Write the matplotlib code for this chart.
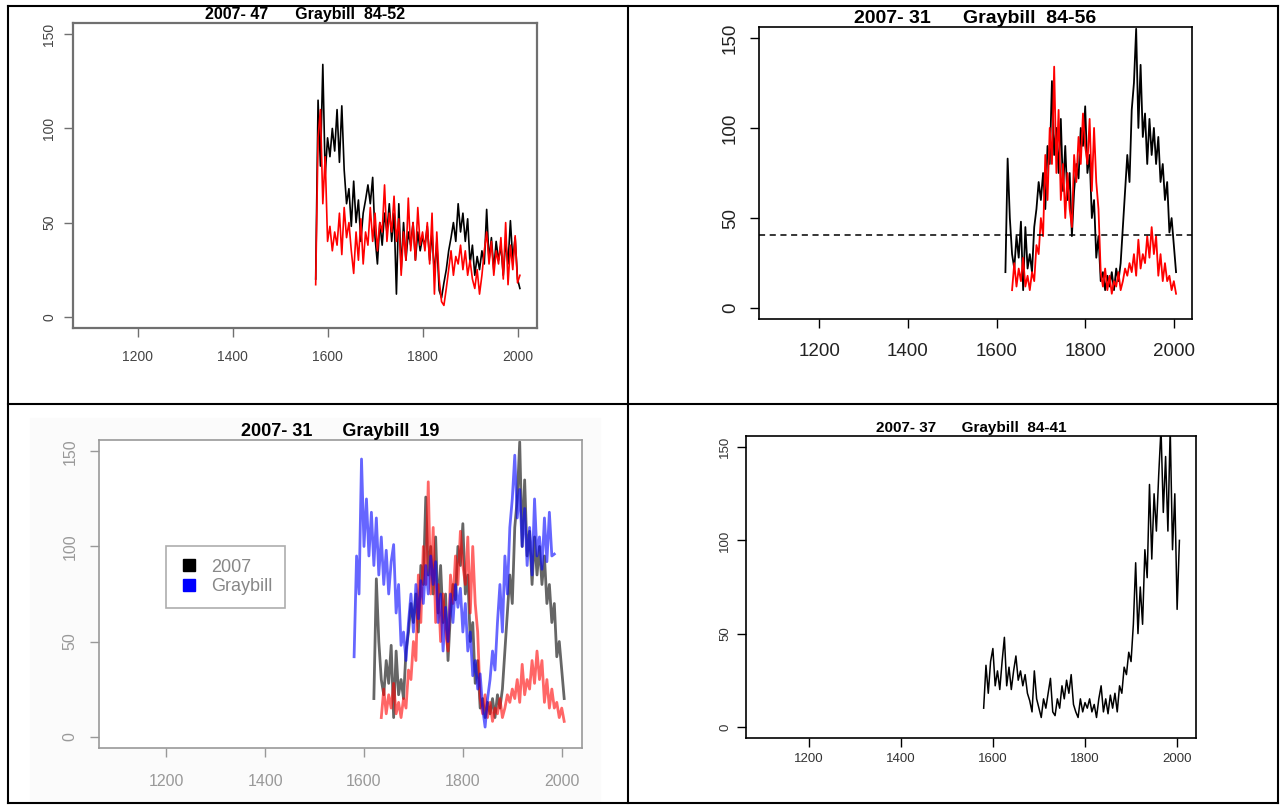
import numpy as np
import matplotlib
matplotlib.use("Agg")
import matplotlib.pyplot as plt
from matplotlib.lines import Line2D

plt.rcParams['font.family'] = ['Liberation Sans', 'DejaVu Sans']

# ---- data (5-year steps) ----
yr_a = np.arange(1575, 2006, 5)
black_a = [20, 115, 80, 134, 75, 95, 85, 100, 88, 110, 82, 112, 78, 60, 68, 48, 72, 50, 62, 40,
           55, 62, 70, 60, 74, 42, 28, 50, 38, 55, 45, 60, 40, 55, 12, 60, 25, 50, 30, 45,
           38, 50, 30, 45, 35, 42, 38, 48, 30, 45, 22, 40, 14, 10, 18, 25, 35, 42, 50, 40,
           60, 45, 55, 40, 52, 28, 38, 22, 32, 25, 35, 28, 57, 30, 42, 25, 40, 30, 38, 22,
           40, 28, 51, 30, 42, 20, 15]
red_a = [17, 95, 110, 60, 85, 40, 48, 35, 45, 38, 55, 33, 58, 42, 50, 35, 23, 45, 30, 52,
         28, 45, 38, 58, 40, 55, 35, 50, 45, 70, 40, 55, 45, 64, 40, 52, 22, 45, 30, 63,
         35, 50, 30, 58, 38, 45, 35, 50, 28, 55, 12, 45, 20, 8, 6, 15, 25, 35, 22, 32,
         28, 38, 25, 35, 22, 30, 20, 15, 25, 12, 22, 35, 45, 28, 40, 22, 35, 28, 42, 20,
         50, 17, 38, 25, 43, 18, 22]

# 2007-31 series (shared by the two "2007-31" panels)
yr_b = np.arange(1620, 2006, 5)
black_b = [20, 83, 50, 30, 22, 40, 28, 48, 10, 45, 22, 30, 20, 45, 55, 70, 60, 75, 55, 90,
           80, 126, 85, 100, 75, 105, 65, 90, 60, 75, 40, 65, 80, 72, 100, 90, 112, 75, 85, 50,
           60, 28, 40, 15, 20, 10, 18, 12, 20, 10, 22, 15, 25, 45, 65, 85, 70, 110, 125, 155,
           100, 135, 95, 108, 80, 105, 85, 100, 80, 95, 70, 80, 60, 70, 42, 50, 35, 20]
yr_r = np.arange(1635, 2006, 5)
red_b = [10, 25, 12, 22, 15, 28, 12, 18, 10, 20, 15, 35, 30, 50, 40, 85, 60, 100, 80, 134,
         75, 110, 60, 80, 50, 75, 55, 45, 85, 70, 95, 80, 108, 90, 80, 105, 65, 100, 70, 55,
         20, 12, 22, 10, 18, 8, 15, 12, 20, 10, 15, 22, 18, 25, 20, 30, 18, 38, 22, 30,
         25, 40, 28, 45, 30, 40, 18, 30, 15, 25, 15, 18, 10, 15, 8]

yr_g19 = np.arange(1580, 1986, 5)
graybill_19 = [42, 95, 75, 146, 100, 125, 95, 118, 90, 115, 85, 105, 80, 98, 75, 92, 101, 65, 80, 48,
               55, 40, 60, 75, 55, 80, 62, 82, 70, 90, 75, 95, 80, 92, 60, 75, 45, 68, 50, 75,
               60, 80, 68, 78, 55, 70, 45, 55, 32, 40, 25, 33, 15, 5, 20, 30, 45, 35, 60, 80,
               55, 95, 75, 110, 125, 148, 115, 130, 100, 120, 90, 110, 85, 125, 95, 105, 88, 115, 92, 118,
               95, 96]

yr_d = np.arange(1580, 2006, 5)
black_d = [10, 33, 18, 35, 42, 22, 30, 20, 35, 48, 22, 32, 20, 30, 38, 25, 30, 22, 28, 18,
           14, 8, 30, 15, 10, 5, 15, 10, 18, 26, 8, 6, 15, 10, 22, 15, 25, 18, 28, 12,
           8, 5, 15, 8, 13, 10, 15, 8, 12, 5, 15, 22, 8, 15, 7, 17, 10, 18, 8, 22,
           18, 32, 28, 40, 35, 55, 88, 50, 75, 55, 95, 80, 130, 90, 125, 105, 135, 160, 115, 145,
           105, 160, 95, 125, 63, 100]

titles = ["2007- 47      Graybill  84-52", "2007- 31      Graybill  84-56",
          "2007- 31      Graybill  19", "2007- 37      Graybill  84-41"]
xticks = [1200, 1400, 1600, 1800, 2000]
yticks = [0, 50, 100, 150]

W, H = 1287, 805
fig = plt.figure(figsize=(W / 100, H / 100), dpi=100)


def box(l, t, r, b):
    return [l / W, 1 - b / H, (r - l) / W, (b - t) / H]


def setup(ax, title, fs, tfs, frame, lab, xpad, ypad, fw=1.2):
    ax.set_xlim(1064, 2041)
    ax.set_ylim(-6, 156)
    ax.set_xticks(xticks)
    ax.set_yticks(yticks)
    ax.set_xticklabels([str(v) for v in xticks], fontsize=fs, color=lab)
    ax.set_yticklabels([str(v) for v in yticks], fontsize=fs, color=lab,
                       rotation=90, va='center')
    ax.tick_params(axis='x', length=6.5, width=1, color=frame, pad=xpad)
    ax.tick_params(axis='y', length=6.5, width=1, color=frame, pad=ypad)
    for s in ax.spines.values():
        s.set_color(frame)
        s.set_linewidth(fw)
    ax.set_title(title, fontsize=tfs, fontweight='bold', pad=3)


# top left
ax1 = fig.add_axes(box(73, 23, 537, 328))
ax1.plot(yr_a, black_a, color='black', lw=1.2)
ax1.plot(yr_a, red_a, color='red', lw=1.2)
setup(ax1, titles[0], 10, 11.5, '#707070', '#444444', 9, 5.5, 1.6)

# top right
ax2 = fig.add_axes(box(759, 27, 1192, 319))
ax2.plot(yr_b, black_b, color='black', lw=1.3)
ax2.plot(yr_r, red_b, color='red', lw=1.3)
ax2.axhline(40.5, color='black', lw=1.1, ls=(0, (4, 3)))
setup(ax2, titles[1], 13.5, 14, 'black', '#222222', 11, 8)

# bottom left
fig.patches.append(plt.Rectangle((30 / W, 1 - 803 / H), 570 / W, 385 / H,
                                 transform=fig.transFigure, color='#fbfbfb', zorder=-10))
ax3 = fig.add_axes(box(99, 440, 582, 748))
ax3.set_zorder(2)
ax3.plot(yr_b, black_b, color='black', lw=2.0, alpha=0.6)
ax3.plot(yr_r, red_b, color='red', lw=2.0, alpha=0.6)
ax3.plot(yr_g19, graybill_19, color='blue', lw=2.0, alpha=0.6)
setup(ax3, titles[2], 11.5, 13, '#999999', '#999999', 12, 9)
ax3.set_facecolor('white')
h1 = Line2D([], [], ls='none', marker='s', color='black', markersize=9)
h2 = Line2D([], [], ls='none', marker='s', color='blue', markersize=9)
leg = ax3.legend([h1, h2], ['2007', 'Graybill'], loc='upper left',
                 bbox_to_anchor=((166 - 99) / 483, (748 - 546) / 308), fontsize=13,
                 frameon=True, fancybox=False, borderpad=0.7, handletextpad=0.6,
                 labelspacing=0.15, handlelength=1.2, borderaxespad=0)
leg.get_frame().set_edgecolor('#999999')
leg.get_frame().set_linewidth(1.2)
for t in leg.get_texts():
    t.set_color('#888888')

# bottom right
ax4 = fig.add_axes(box(746, 436, 1196, 738))
ax4.plot(yr_d, black_d, color='black', lw=1.1)
setup(ax4, titles[3], 9.5, 11, 'black', '#333333', 4, 4)

# table grid
for xs, ys in [([8, 1278], [6, 6]), ([8, 1278], [803, 803]), ([8, 1278], [404, 404]),
               ([8, 8], [6, 803]), ([1278, 1278], [6, 803]), ([628, 628], [6, 803])]:
    fig.add_artist(Line2D([x / W for x in xs], [1 - y / H for y in ys], color='black',
                          lw=1.5, transform=fig.transFigure))

fig.savefig('out.png', dpi=100)
